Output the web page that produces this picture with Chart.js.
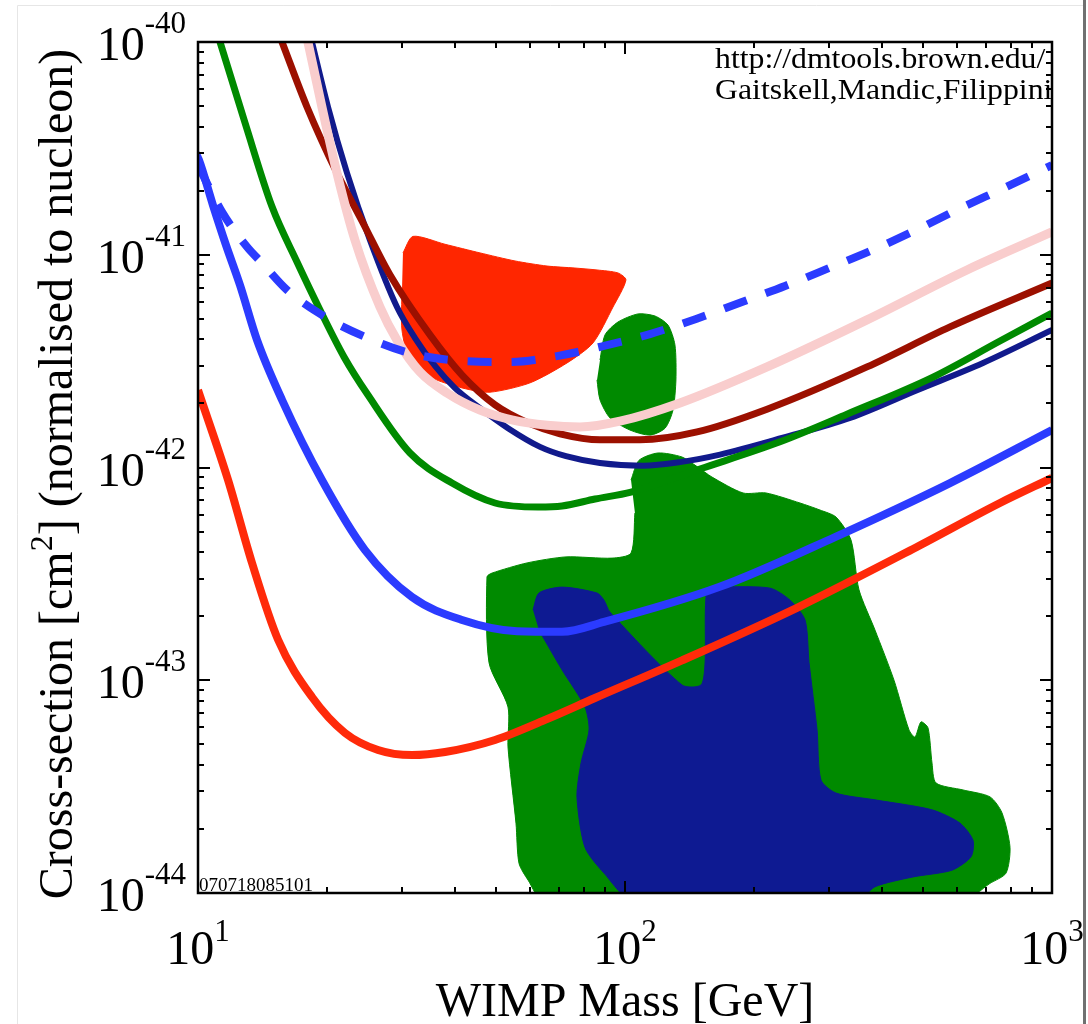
<!DOCTYPE html>
<html>
<head>
<meta charset="utf-8">
<title>WIMP cross-section limits</title>
<script src="https://cdn.jsdelivr.net/npm/chart.js@4.4.1/dist/chart.umd.min.js"></script>
<style>
  html, body { margin: 0; padding: 0; background: #fff; }
  #wrap { position: relative; width: 1088px; height: 1024px; }
</style>
</head>
<body>
<div id="wrap"><canvas id="limitChart" width="1088" height="1024"></canvas></div>
<script>
// WIMP mass in GeV, cross-section in cm^2

// limit curves
const greenMass = [10.84, 11.26, 12.89, 14.91, 17.06, 19.31, 21.98, 25.01, 31.37, 39.35, 49.62, 62.58, 71.20, 85.06, 103.3, 149.8, 230.7, 331.1, 526.6, 755.3, 1000];
const greenSigma = [1.27e-40, 1.00e-40, 4.16e-41, 1.68e-41, 9.25e-42, 5.50e-42, 3.31e-42, 2.19e-42, 1.17e-42, 8.45e-43, 6.81e-43, 6.52e-43, 6.59e-43, 7.11e-43, 7.67e-43, 9.84e-43, 1.32e-42, 1.78e-42, 2.66e-42, 3.93e-42, 5.32e-42];

const maroonMass = [15.03, 15.73, 18.00, 21.16, 24.35, 28.17, 34.94, 41.53, 49.62, 59.29, 70.44, 87.39, 108.4, 147.5, 215.1, 368.7, 576.9, 1000];
const maroonSigma = [1.27e-40, 1.00e-40, 4.95e-41, 2.42e-41, 1.41e-41, 8.03e-42, 4.20e-42, 2.72e-42, 1.97e-42, 1.62e-42, 1.44e-42, 1.35e-42, 1.35e-42, 1.47e-42, 1.88e-42, 2.97e-42, 4.58e-42, 7.36e-42];

const pinkMass = [17.64, 18.09, 19.51, 21.16, 23.32, 26.68, 29.24, 33.11, 38.30, 45.76, 54.67, 65.69, 78.45, 97.34, 134.5, 215.1, 368.7, 632.3, 1000];
const pinkSigma = [1.27e-40, 1.00e-40, 4.95e-41, 2.42e-41, 1.17e-41, 5.68e-42, 3.97e-42, 2.81e-42, 2.24e-42, 1.86e-42, 1.67e-42, 1.58e-42, 1.55e-42, 1.65e-42, 2.01e-42, 2.97e-42, 4.94e-42, 8.48e-42, 1.28e-41];

const navyMass = [17.96, 18.49, 20.16, 22.34, 25.28, 29.24, 32.23, 35.89, 39.99, 45.76, 53.21, 63.25, 72.75, 87.39, 110.2, 134.5, 166.9, 234.4, 336.5, 482.9, 689.3, 1000];
const navySigma = [1.27e-40, 1.00e-40, 4.95e-41, 2.42e-41, 1.17e-41, 5.68e-42, 4.06e-42, 3.00e-42, 2.36e-42, 1.90e-42, 1.53e-42, 1.25e-42, 1.13e-42, 1.05e-42, 1.02e-42, 1.06e-42, 1.15e-42, 1.38e-42, 1.71e-42, 2.31e-42, 3.10e-42, 4.43e-42];

const blueMass = [9.79, 10.05, 10.84, 11.63, 12.54, 13.75, 15.73, 19.51, 24.61, 31.71, 41.53, 55.86, 71.20, 89.29, 166.0, 310.3, 576.9, 1000];
const blueSigma = [3.11e-41, 2.79e-41, 1.71e-41, 1.11e-41, 7.21e-42, 3.97e-42, 2.08e-42, 8.73e-43, 4.09e-43, 2.46e-43, 1.92e-43, 1.70e-43, 1.69e-43, 1.88e-43, 2.74e-43, 4.71e-43, 8.45e-43, 1.50e-42];

const redMass = [10.0, 11.76, 13.38, 15.40, 18.49, 22.10, 26.40, 31.71, 37.89, 49.62, 64.98, 85.06, 136.0, 252.8, 472.6, 755.3, 1000];
const redSigma = [2.31e-42, 8.73e-43, 3.56e-43, 1.55e-43, 8.34e-44, 5.65e-44, 4.70e-44, 4.45e-44, 4.60e-44, 5.24e-44, 6.51e-44, 8.25e-44, 1.24e-43, 2.19e-43, 4.14e-43, 6.81e-43, 8.93e-43];

const dashMass = [10.0, 11.38, 13.02, 14.12, 16.16, 20.05, 25.01, 31.88, 41.53, 53.79, 69.31, 89.29, 114.4, 146.7, 187.9, 237.0, 300.5, 382.9, 485.6, 612.2, 771.8, 1000];
const dashSigma = [2.64e-41, 1.59e-41, 1.09e-41, 9.15e-42, 6.83e-42, 5.04e-42, 4.06e-42, 3.42e-42, 3.17e-42, 3.13e-42, 3.34e-42, 3.73e-42, 4.24e-42, 4.99e-42, 6.00e-42, 7.13e-42, 8.66e-42, 1.06e-41, 1.32e-41, 1.66e-41, 2.06e-41, 2.64e-41];

// allowed regions (closed outlines)
const redRegionMass = [30.20, 31.88, 37.89, 45.76, 55.26, 65.69, 76.36, 86.00, 96.30, 100.5, 93.73, 84.15, 73.14, 59.93, 48.29, 41.75, 34.94, 31.37, 30.04, 30.04];
const redRegionSigma = [1.02e-41, 1.22e-41, 1.12e-41, 1.02e-41, 9.35e-42, 8.85e-42, 8.66e-42, 8.48e-42, 8.21e-42, 7.61e-42, 5.68e-42, 3.85e-42, 3.10e-42, 2.50e-42, 2.26e-42, 2.36e-42, 2.66e-42, 3.20e-42, 4.43e-42, 6.83e-42];

const greenBlobMass = [87.39, 89.78, 96.30, 107.3, 117.6, 126.1, 130.9, 131.6, 129.5, 124.1, 114.4, 102.7, 92.23, 87.39, 86.00];
const greenBlobSigma = [3.20e-42, 4.20e-42, 4.83e-42, 5.27e-42, 5.15e-42, 4.67e-42, 3.77e-42, 2.58e-42, 1.86e-42, 1.53e-42, 1.42e-42, 1.50e-42, 1.71e-42, 2.08e-42, 2.58e-42];

const greenRegionMass = [103.3, 107.8, 119.5, 136.0, 147.5, 159.8, 189.0, 213.9, 256.9, 286.2, 312.0, 338.3, 353.2, 385.1, 426.6, 462.5, 477.7, 493.4, 512.4, 523.6, 535.0, 618.9, 715.8, 763.7, 797.3, 780.3, 715.8, 608.9, 64.98, 59.29, 56.46, 55.55, 53.21, 53.21, 48.03, 47.51, 48.83, 58.97, 72.75, 93.24, 103.3, 105.5];
const greenRegionSigma = [8.73e-43, 1.08e-42, 1.17e-42, 1.12e-42, 1.01e-42, 9.02e-43, 7.59e-43, 7.59e-43, 6.81e-43, 6.31e-43, 5.85e-43, 4.56e-43, 2.66e-43, 1.72e-43, 1.00e-43, 5.84e-44, 5.41e-44, 6.37e-44, 5.97e-44, 4.08e-44, 3.29e-44, 3.05e-44, 2.83e-44, 2.38e-44, 1.64e-44, 1.24e-44, 1.11e-44, 9.0e-45, 9.0e-45, 1.15e-44, 1.38e-44, 2.13e-44, 4.86e-44, 7.49e-44, 1.21e-43, 3.06e-43, 3.19e-43, 3.56e-43, 3.80e-43, 3.75e-43, 3.96e-43, 6.11e-43];

const navyRegionMass = [60.89, 62.89, 71.20, 86.00, 89.29, 92.23, 136.0, 150.7, 154.0, 155.6, 166.9, 218.6, 243.5, 264.0, 269.8, 281.7, 287.7, 312.0, 385.1, 523.6, 608.9, 653.1, 646.1, 583.2, 472.6, 385.1, 345.6, 105.5, 89.29, 80.58, 77.18, 78.88, 82.37, 80.58, 71.20, 62.89];
const navyRegionSigma = [2.14e-43, 2.57e-43, 2.74e-43, 2.57e-43, 2.38e-43, 2.09e-43, 9.50e-44, 9.50e-44, 1.21e-43, 2.66e-43, 2.74e-43, 2.71e-43, 2.38e-43, 1.92e-43, 1.21e-43, 5.84e-44, 3.40e-44, 2.95e-44, 2.74e-44, 2.46e-44, 2.13e-44, 1.77e-44, 1.48e-44, 1.28e-44, 1.19e-44, 1.07e-44, 9.0e-45, 9.0e-45, 1.24e-44, 1.64e-44, 2.83e-44, 4.08e-44, 5.84e-44, 7.49e-44, 1.12e-43, 1.72e-43];

// axes and text
const massTicks = [10, 100, 1000];
const massTickExps = ['1', '2', '3'];
const sigmaTicks = [1e-40, 1e-41, 1e-42, 1e-43, 1e-44];
const sigmaTickExps = ['-40', '-41', '-42', '-43', '-44'];
const xTitle = 'WIMP Mass [GeV]';
const yTitleParts = ['Cross-section [cm', '2', '] (normalised to nucleon)'];
const creditLines = ['http://dmtools.brown.edu/', 'Gaitskell,Mandic,Filippini'];
const plotStamp = '070718085101';

const SERIF = '"Liberation Serif", "Times New Roman", serif';

function pts(xs, ys) {
  return xs.map((x, i) => ({ x, y: ys[i] }));
}

function curve(xs, ys, color, width, order, extra = {}) {
  return {
    data: pts(xs, ys),
    borderColor: color,
    borderWidth: width,
    fill: false,
    pointRadius: 0,
    cubicInterpolationMode: 'monotone',
    borderCapStyle: 'butt',
    clip: 0,
    order,
    ...extra,
  };
}

function region(xs, ys, color, order) {
  return {
    data: pts(xs, ys),
    borderColor: color,
    borderWidth: 1,
    backgroundColor: color,
    fill: 'shape',
    pointRadius: 0,
    tension: 0.25,
    clip: 0,
    order,
  };
}

// draws "10" followed by a raised exponent, starting at x
function drawPower(ctx, exp, x, baseY, supY, baseSize, supSize) {
  ctx.font = `${baseSize}px ${SERIF}`;
  const wb = ctx.measureText('10').width;
  ctx.fillText('10', x, baseY);
  ctx.font = `${supSize}px ${SERIF}`;
  ctx.fillText(exp, x + wb, supY);
}

function powerWidth(ctx, exp, baseSize, supSize) {
  ctx.font = `${baseSize}px ${SERIF}`;
  const wb = ctx.measureText('10').width;
  ctx.font = `${supSize}px ${SERIF}`;
  return wb + ctx.measureText(exp).width;
}

const plotDecor = {
  id: 'plotDecor',
  beforeDraw(chart) {
    const { ctx, width, height } = chart;
    ctx.save();
    ctx.fillStyle = '#fff';
    ctx.fillRect(0, 0, width, height);
    ctx.strokeStyle = '#e6e6e6';
    ctx.lineWidth = 1;
    ctx.beginPath();
    ctx.moveTo(17.5, height);
    ctx.lineTo(17.5, 5.5);
    ctx.lineTo(1083, 5.5);
    ctx.stroke();
    ctx.fillStyle = '#707070';
    ctx.fillRect(1083, 0, 3, height);
    ctx.restore();
  },
  afterDatasetsDraw(chart) {
    const { ctx, chartArea: a } = chart;
    ctx.save();
    ctx.beginPath();
    ctx.rect(a.left, a.top, a.right - a.left, a.bottom - a.top);
    ctx.clip();
    ctx.fillStyle = '#000';
    ctx.textAlign = 'left';
    ctx.textBaseline = 'alphabetic';
    ctx.font = `30px ${SERIF}`;
    // the credit is set a little wide, like the original, and runs into the frame
    creditLines.forEach((t, i) => {
      ctx.save();
      ctx.translate(715, 68 + i * 31);
      ctx.scale(1.06, 1);
      ctx.fillText(t, 0, 0);
      ctx.restore();
    });
    ctx.font = `19px ${SERIF}`;
    ctx.fillText(plotStamp, a.left + 1, a.bottom - 2);
    ctx.restore();
  },
  afterDraw(chart) {
    const { ctx, chartArea: a, scales: { x, y } } = chart;
    ctx.save();

    // inward ticks on all four sides
    ctx.strokeStyle = '#000';
    ctx.lineWidth = 2;
    ctx.beginPath();
    for (let e = 1; e <= 2; e++) {
      for (let k = 1; k <= 9; k++) {
        const px = Math.round(x.getPixelForValue(k * Math.pow(10, e)));
        const len = k === 1 ? 12 : 6;
        ctx.moveTo(px, a.bottom); ctx.lineTo(px, a.bottom - len);
        ctx.moveTo(px, a.top); ctx.lineTo(px, a.top + len);
      }
    }
    for (let e = -44; e <= -41; e++) {
      for (let k = 1; k <= 9; k++) {
        const py = Math.round(y.getPixelForValue(k * Math.pow(10, e)));
        const len = k === 1 ? 12 : 6;
        ctx.moveTo(a.left, py); ctx.lineTo(a.left + len, py);
        ctx.moveTo(a.right, py); ctx.lineTo(a.right - len, py);
      }
    }
    ctx.stroke();

    // frame
    ctx.lineWidth = 2.5;
    ctx.strokeRect(a.left, a.top, a.right - a.left, a.bottom - a.top);

    // tick labels
    ctx.fillStyle = '#000';
    ctx.textAlign = 'left';
    ctx.textBaseline = 'alphabetic';
    massTicks.forEach((v, i) => {
      const px = x.getPixelForValue(v);
      const w = powerWidth(ctx, massTickExps[i], 48, 31);
      drawPower(ctx, massTickExps[i], px - w / 2, 964, 941, 48, 31);
    });
    sigmaTicks.forEach((v, i) => {
      const py = y.getPixelForValue(v);
      const w = powerWidth(ctx, sigmaTickExps[i], 48, 31);
      drawPower(ctx, sigmaTickExps[i], 186 - w, py + 18, py - 9, 48, 31);
    });

    // axis titles
    ctx.font = `48px ${SERIF}`;
    ctx.textAlign = 'center';
    ctx.fillText(xTitle, (a.left + a.right) / 2, 1016);

    ctx.translate(72, 474);
    ctx.rotate(-Math.PI / 2);
    ctx.textAlign = 'left';
    ctx.font = `48px ${SERIF}`;
    const w1 = ctx.measureText(yTitleParts[0]).width;
    const w3 = ctx.measureText(yTitleParts[2]).width;
    ctx.font = `32px ${SERIF}`;
    const w2 = ctx.measureText(yTitleParts[1]).width;
    const sx = -(w1 + w2 + w3) / 2;
    ctx.font = `48px ${SERIF}`;
    ctx.fillText(yTitleParts[0], sx, 0);
    ctx.font = `32px ${SERIF}`;
    ctx.fillText(yTitleParts[1], sx + w1, -20);
    ctx.font = `48px ${SERIF}`;
    ctx.fillText(yTitleParts[2], sx + w1 + w2, 0);

    ctx.restore();
  },
};

const ctx = document.getElementById('limitChart');

new Chart(ctx, {
  type: 'line',
  data: {
    datasets: [
      region(greenRegionMass, greenRegionSigma, '#008a00', 10),
      region(navyRegionMass, navyRegionSigma, '#0e1a92', 9),
      region(greenBlobMass, greenBlobSigma, '#008a00', 8),
      region(redRegionMass, redRegionSigma, '#ff2600', 7),
      curve(navyMass, navySigma, '#111a8c', 6, 6),
      curve(maroonMass, maroonSigma, '#9c1000', 7, 5),
      curve(pinkMass, pinkSigma, '#f9cdcd', 9, 4),
      curve(greenMass, greenSigma, '#008a00', 7, 3),
      curve(redMass, redSigma, '#ff2a0a', 8, 2),
      curve(blueMass, blueSigma, '#2b3bff', 8, 1),
      curve(dashMass, dashSigma, '#2b3bff', 8, 0, { borderDash: [24, 20] }),
    ],
  },
  options: {
    responsive: false,
    animation: false,
    layout: { padding: { left: 198, top: 42, right: 36, bottom: 131 } },
    scales: {
      x: { type: 'logarithmic', min: 10, max: 1000, display: false },
      y: { type: 'logarithmic', min: 1e-44, max: 1e-40, display: false },
    },
    plugins: {
      legend: { display: false },
      tooltip: { enabled: false },
    },
  },
  plugins: [plotDecor],
});
</script>
</body>
</html>
